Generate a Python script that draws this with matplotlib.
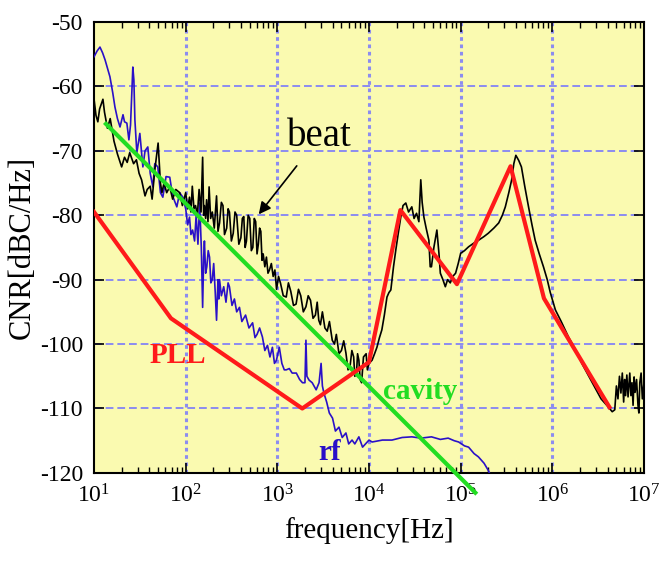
import numpy as np
import matplotlib
matplotlib.use('Agg')
from matplotlib import pyplot as plt
from matplotlib.ticker import LogLocator, NullFormatter, FixedLocator

plt.rcParams['font.family'] = ['Liberation Serif', 'DejaVu Serif']
plt.rcParams['mathtext.fontset'] = 'stix'
plt.rcParams['axes.unicode_minus'] = False

# beat signal (black)
beat_pts = [
    (10, -62), (10.5, -64.5), (11, -65.5), (11.5, -63.5), (12.5, -62), (13, -64), (14, -66.5), (15, -65),
    (16.5, -68.5), (18, -70.5), (20, -72.5), (21.5, -71), (23, -71.8), (24.5, -70.3), (27, -72), (29, -71.4),
    (31, -73.5), (33, -74.5), (36, -77), (38, -76), (41, -75.5), (43, -77.5), (46, -73), (50, -68.8),
    (53, -75), (55, -76.5), (58, -75), (62, -76.5), (67, -75.6), (72, -77.5), (78, -76), (86, -76.5),
    (92, -78.5), (100, -76.5), (105, -79), (110, -77.2), (114, -79.5), (118, -75.5), (123, -79), (128, -78.5),
    (134, -80), (140, -76), (147, -79.5), (153, -71), (157, -80), (160, -78.5), (165, -80.5), (169, -77.6),
    (175, -81), (180, -75.6), (187, -80.5), (195, -79.5), (205, -82), (217, -77), (225, -82.5), (234, -81.2),
    (245, -78), (255, -78.5), (265, -83), (280, -82), (290, -79), (300, -79.5), (315, -84), (330, -82.8),
    (345, -79.5), (360, -80), (380, -84.5), (400, -83.5), (415, -80.5), (430, -80.2), (445, -85), (460, -84),
    (480, -80), (500, -80.5), (520, -85.5), (540, -85), (560, -80.5), (580, -81), (600, -86), (620, -84.5),
    (640, -82), (660, -82.5), (680, -87), (700, -86), (730, -88), (760, -86.5), (790, -89), (820, -88.5),
    (860, -87.5), (900, -89.5), (940, -88.5), (980, -91.5), (1030, -89.5), (1080, -90.5), (1160, -92.5),
    (1250, -92.7), (1320, -90.5), (1400, -91.8), (1500, -94), (1600, -93.8), (1700, -91.5), (1800, -92.5),
    (1920, -95), (2050, -94.2), (2170, -92.5), (2300, -93.2), (2450, -96), (2600, -95.5), (2720, -93.5),
    (2830, -96.3), (2950, -97), (3100, -95), (3300, -97.5), (3500, -98), (3700, -96.5), (3970, -99.4),
    (4200, -100), (4400, -98.5), (4700, -101.5), (5000, -101), (5300, -99.5), (5600, -101.4), (5900, -104),
    (6200, -103.5), (6500, -101), (6800, -102), (7000, -105), (7300, -104.5), (7500, -101.5), (7750, -102.5),
    (8000, -105.5), (8300, -106), (8700, -102), (9300, -101.5), (9600, -104), (1.0e4, -103),
    (1.08e4, -102.5), (1.15e4, -101.5), (1.22e4, -100.5), (1.3e4, -99), (1.38e4, -97.8), (1.47e4, -95.5),
    (1.57e4, -92.7), (1.65e4, -92), (1.73e4, -91.6), (1.85e4, -88), (1.96e4, -85.4), (2.1e4, -82.5),
    (2.22e4, -80.3), (2.35e4, -78.5), (2.52e4, -78.1), (2.7e4, -79.5), (2.93e4, -78.7), (3.1e4, -80.5),
    (3.3e4, -79.7), (3.5e4, -81), (3.67e4, -74.5), (3.8e4, -78), (3.97e4, -80.3), (4.2e4, -82), (4.5e4, -83.9),
    (4.65e4, -88), (4.8e4, -88), (5.1e4, -85), (5.5e4, -82.3), (5.8e4, -86), (6.0e4, -89), (6.4e4, -90),
    (6.8e4, -91.1), (7.2e4, -90), (7.7e4, -90.5), (8.2e4, -89.5), (8.8e4, -89), (9.4e4, -87.5), (1.0e5, -85.9),
    (1.1e5, -85.5), (1.22e5, -84.9), (1.4e5, -84.3), (1.56e5, -83.9), (1.8e5, -83.3), (2.0e5, -82.8),
    (2.3e5, -82), (2.6e5, -81.2), (2.85e5, -80), (3.07e5, -78.7), (3.35e5, -76.5), (3.6e5, -74.5), (3.8e5, -72),
    (4.0e5, -70.7), (4.3e5, -71.5), (4.6e5, -72.5), (5.0e5, -75.5), (5.5e5, -78.7), (6.0e5, -81.5),
    (6.5e5, -83.9), (7.2e5, -86), (8.0e5, -88), (8.8e5, -90), (9.5e5, -92), (1.08e6, -94.7), (1.25e6, -96.5),
    (1.5e6, -98.9), (1.8e6, -101), (2.1e6, -103), (2.5e6, -105), (2.9e6, -106.7), (3.4e6, -108.5),
    (4.1e6, -109.8), (4.5e6, -110.5), (4.8e6, -110.2), (5.0e6, -106.5), (5.2e6, -108.5), (5.4e6, -105),
    (5.6e6, -107.6), (5.8e6, -104.5), (6.0e6, -109), (6.15e6, -105.5), (6.3e6, -108), (6.5e6, -104.8),
    (6.7e6, -108.2), (7.0e6, -104.5), (7.2e6, -108), (7.4e6, -106), (7.6e6, -109.5), (7.8e6, -105.1),
    (8.0e6, -107.5), (8.3e6, -105.5), (8.6e6, -109.5), (8.8e6, -110.7), (9.0e6, -106), (9.3e6, -104.5),
    (9.6e6, -108.5), (1.0e7, -106),
]

# rf signal (blue)
rf_pts = [
    (10, -55.4), (10.8, -54.5), (11.6, -53.9), (12.4, -54.8), (13.2, -55.9), (14.9, -58.5), (16, -61),
    (16.9, -63.2), (18, -65), (19.2, -66.3), (20.7, -64.4), (21.5, -65.5), (22.8, -65.7), (24, -68.3),
    (25, -66), (26.5, -57), (27.2, -59), (27.9, -65.2), (29.3, -70.3), (31.6, -67.3), (34.1, -72.5), (36, -70),
    (38.6, -69.4), (41, -73.5), (43.8, -75.6), (46, -72), (49.6, -72.5), (53, -76.5), (56.3, -77.2), (61, -74),
    (67, -74.1), (72, -77), (80, -78.7), (86, -76.5), (93, -77.2), (100, -79), (105, -81.5), (110, -80.3),
    (114, -83), (119, -82.3), (125, -84), (130, -80), (136, -84.5), (142, -78.1), (148, -85), (153, -94.3),
    (157, -86.5), (160, -84), (165, -89), (170, -88), (176, -85.5), (182, -86.5), (188, -90.5), (195, -90),
    (202, -87.5), (210, -92), (217, -96.3), (225, -90), (230, -93), (234, -90), (245, -92.5), (260, -91.1),
    (275, -93.5), (290, -90.5), (300, -91.1), (320, -94), (340, -93), (360, -95), (386, -94.3), (410, -96.5),
    (450, -95.5), (490, -97.5), (537, -96.7), (570, -99), (600, -98.5), (640, -97.5), (687, -98.9),
    (730, -101), (780, -100.2), (830, -102), (883, -100.5), (930, -103), (977, -102.5), (1050, -100.5),
    (1120, -103), (1190, -104), (1250, -104), (1350, -103.8), (1450, -104.5), (1610, -104.5),
    (1750, -105.5), (1880, -106), (2000, -106), (2050, -99.4), (2100, -105), (2220, -105.6), (2400, -106),
    (2650, -107.1), (2850, -106), (3000, -103), (3100, -106.5), (3220, -107.6), (3450, -109), (3690, -110.7),
    (4000, -111.5), (4300, -113.5), (4700, -112.9), (5100, -114.5), (5600, -113.8), (6000, -115.5),
    (6530, -114.9), (7000, -115.5), (7750, -114.4), (8500, -116), (9300, -115.4), (1.0e4, -114.9),
    (1.08e4, -115.2), (1.4e4, -114.9), (1.78e4, -114.9), (2.3e4, -114.5), (2.93e4, -114.4), (3.7e4, -114.6),
    (4.8e4, -114.4), (6e4, -114.8), (7.3e4, -114.6), (8.5e4, -115), (9.5e4, -115.2), (1.1e5, -115.8),
    (1.22e5, -116), (1.4e5, -117), (1.56e5, -117.5), (1.8e5, -118.5), (2.0e5, -119.6), (2.1e5, -120.3),
]

cavity_f = [13, 1.5e5]
cavity_cnr = [-65.6, -123.3]

pll_f = [10, 69, 1870, 1.0e4, 2.2e4, 9.1e4, 3.5e5, 8.1e5, 4.2e6]
pll_cnr = [-79.5, -96, -110, -102.8, -79.2, -90.7, -72.4, -92.9, -109.8]

beat_f, beat_cnr = np.array(beat_pts).T
rf_f, rf_cnr = np.array(rf_pts).T

grid_col = '#8c8cf0'

fig = plt.figure(figsize=(6.67, 5.63), dpi=100)
ax = fig.add_axes([0.141, 0.160, 0.8245, 0.801])
ax.set_facecolor('#fafab0')

ax.set_xscale('log')
ax.set_xlim(10, 1e7)
ax.set_ylim(-120, -50)

for e in range(2, 7):
    ax.axvline(10**e, color=grid_col, lw=2.2, ls=(0, (1.2, 1.2)), zorder=1)
for v in range(-110, -50, 10):
    ax.axhline(v, color=grid_col, lw=1.4, ls=(0, (4, 2)), zorder=1)

ax.plot(rf_f, rf_cnr, color='#2a10c8', lw=1.2, zorder=3)
ax.plot(beat_f, beat_cnr, color='black', lw=1.2, zorder=4)
ax.plot(cavity_f, cavity_cnr, color='#22dd22', lw=3.0, zorder=5, clip_on=False, solid_capstyle='butt')
ax.plot(pll_f, pll_cnr, color='#ff1a1a', lw=3.0, zorder=6)

ax.text(2900, -67.8, 'beat', fontsize=28, color='black', ha='center', va='center')
ax.annotate('', xy=(600, -80.2), xytext=(1.7e3, -72),
            arrowprops=dict(arrowstyle='-|>', color='black', lw=1.2, mutation_scale=18))
ax.text(82, -101.8, 'PLL', fontsize=21, color='#ff1a1a', fontweight='bold', ha='center', va='center')
ax.text(3.6e4, -107.3, 'cavity', fontsize=21, color='#22dd22', fontweight='bold', ha='center', va='center')
ax.text(3700, -116.8, 'rf', fontsize=21, color='#2a10c8', fontweight='bold', ha='center', va='center')

ax.xaxis.set_major_locator(LogLocator(base=10, numticks=10))
ax.xaxis.set_minor_locator(LogLocator(base=10, subs=np.arange(2, 10), numticks=20))
ax.xaxis.set_minor_formatter(NullFormatter())
ax.yaxis.set_major_locator(FixedLocator(range(-120, -45, 10)))
ax.tick_params(which='both', direction='in', top=True, right=True)
ax.tick_params(which='major', length=7, width=1.2)
ax.tick_params(which='minor', length=4, width=1.0)
ax.tick_params(axis='x', pad=8, labelsize=17)
ax.tick_params(axis='y', pad=8, labelsize=17)
for s in ax.spines.values():
    s.set_linewidth(1.5)

ax.set_xlabel('frequency[Hz]', fontsize=21, labelpad=7)
ax.set_ylabel('CNR[dBC/Hz]', fontsize=22, labelpad=2)

fig.savefig('out.png', dpi=100)
